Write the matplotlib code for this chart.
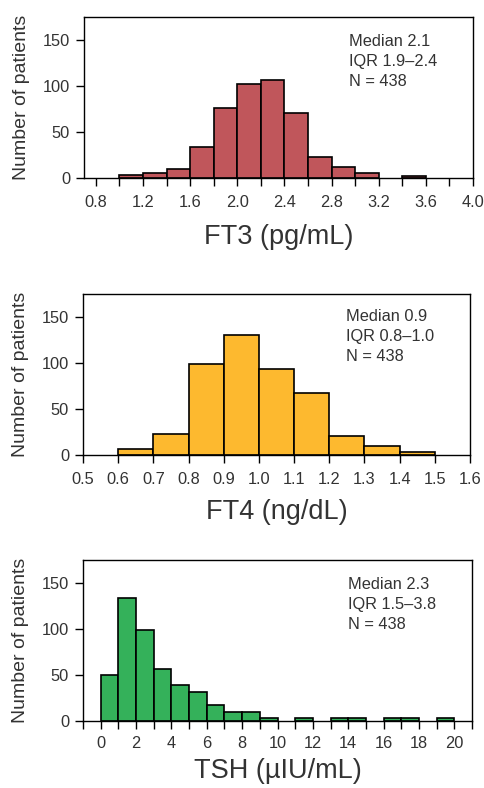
import matplotlib
matplotlib.use("Agg")
import matplotlib.pyplot as plt
import numpy as np
from matplotlib.ticker import MultipleLocator

plt.rcParams['font.family'] = ['Liberation Sans', 'DejaVu Sans']

# ---- data ----
ft3_edges = [1.0, 1.2, 1.4, 1.6, 1.8, 2.0, 2.2, 2.4, 2.6, 2.8, 3.0, 3.2, 3.4, 3.6]
ft3_counts = [3, 5, 10, 34, 76, 102, 106, 71, 23, 12, 5, 0, 2]

ft4_edges = [0.6, 0.7, 0.8, 0.9, 1.0, 1.1, 1.2, 1.3, 1.4, 1.5]
ft4_counts = [6, 23, 99, 130, 93, 67, 21, 10, 3]

tsh_edges = list(range(0, 21))
tsh_counts = [50, 134, 99, 56, 39, 31, 17, 10, 10, 3, 0, 3, 0, 3, 3, 0, 3, 3, 0, 3]

labels = ["FT3 (pg/mL)", "FT4 (ng/dL)", "TSH (µIU/mL)"]
stats = ["Median 2.1\nIQR 1.9–2.4\nN = 438",
         "Median 0.9\nIQR 0.8–1.0\nN = 438",
         "Median 2.3\nIQR 1.5–3.8\nN = 438"]
colors = ["#C0565B", "#FDB92F", "#34B15A"]

W, H = 485, 788
fig = plt.figure(figsize=(W / 100, H / 100), dpi=100)

def rect(l, r, t, b):
    return [l / W, 1 - b / H, (r - l) / W, (b - t) / H]

rects = [rect(84, 473, 17, 178), rect(83, 470, 294, 455), rect(83, 472, 560, 721)]
xlims = [(0.7, 4.0), (0.5, 1.6), (-1, 21)]
majors = [0.4, 0.1, 2]
minors = [0.2, 0.1, 1]
text_y = [0.893, 0.905, 0.893]
xpads = [6, 6, 4.5]
xlabelpads = [10, 9, 5]
tc = '#333333'

datasets = [(ft3_edges, ft3_counts), (ft4_edges, ft4_counts), (tsh_edges, tsh_counts)]

for i, (edges, counts) in enumerate(datasets):
    ax = fig.add_axes(rects[i])
    e = np.array(edges, dtype=float)
    c = np.array(counts, dtype=float)
    left = e[:-1]
    width = np.diff(e)
    m = c > 0
    ax.bar(left[m], c[m], width=width[m], align='edge', color=colors[i],
           edgecolor='black', linewidth=1.2, zorder=2)
    ax.set_xlim(*xlims[i])
    ax.set_ylim(0, 175)
    ax.set_yticks([0, 50, 100, 150])
    ax.xaxis.set_major_locator(MultipleLocator(majors[i]))
    ax.xaxis.set_minor_locator(MultipleLocator(minors[i]))
    if i == 0:
        ax.set_xticks(np.arange(0.8, 4.01, 0.4))
        ax.set_xticklabels([f"{v:.1f}" for v in np.arange(0.8, 4.01, 0.4)])
    elif i == 1:
        ax.set_xticks(np.arange(0.5, 1.61, 0.1))
        ax.set_xticklabels([f"{v:.1f}" for v in np.arange(0.5, 1.61, 0.1)])
    else:
        ax.set_xticks(np.arange(0, 21, 2))
    ax.tick_params(axis='both', which='both', direction='out', length=6,
                   width=1, color='black', labelsize=11.8, labelcolor=tc)
    ax.tick_params(axis='x', which='both', pad=xpads[i])
    ax.tick_params(axis='y', which='both', pad=4)
    for s in ax.spines.values():
        s.set_linewidth(1)
        s.set_color('black')
    ax.set_ylabel("Number of patients", fontsize=14, color=tc, labelpad=9)
    ax.set_xlabel(labels[i], fontsize=19.5, color=tc, labelpad=xlabelpads[i])
    ax.text(0.68, text_y[i], stats[i], transform=ax.transAxes, ha='left', va='top',
            fontsize=11.8, color=tc, linespacing=1.4)

fig.savefig("out.png", dpi=100)
